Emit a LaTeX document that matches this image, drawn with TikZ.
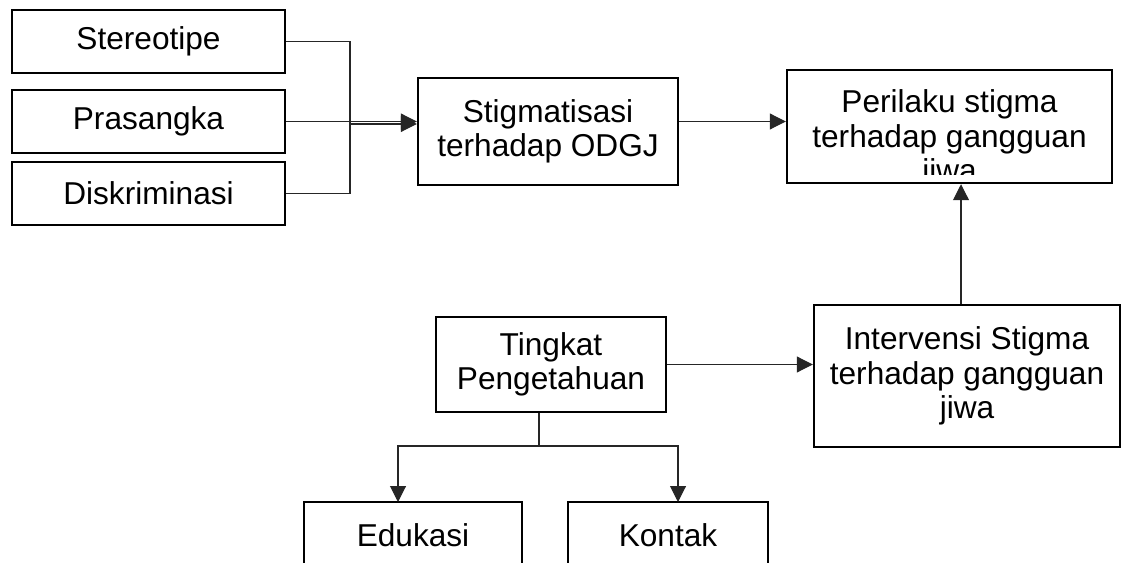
\documentclass[tikz,border=0pt]{standalone}
\usepackage{fontspec}
\setmainfont{Liberation Sans}
\usetikzlibrary{calc,arrows.meta}
\def\u{0.02cm}
\tikzset{
  box/.style={draw, line width=1.4pt, align=center, inner sep=2pt,
    font=\fontsize{18}{19.5}\selectfont},
  link/.style={line width=0.6pt, black!85},
}

\begin{document}
\begin{tikzpicture}[x=0.02cm, y=-0.02cm, >={Triangle[length=9pt,width=9pt]}]
\useasboundingbox (0,0) rectangle (1121,563);
\clip (0,0) rectangle (1121,563);

%the left column
    \node[box, minimum width=273*\u, minimum height=63*\u] (ster) at (148.5,41.5) {Stereotipe};
    \node[box, minimum width=273*\u, minimum height=63*\u] (pras) at (148.5,121.5) {Prasangka};
    \node[box, minimum width=273*\u, minimum height=63*\u] (disk) at (148.5,193.5) {Diskriminasi};

%the upper row
    \node[box, minimum width=260*\u, minimum height=107*\u] (stig) at (548,131.5) {Stigmatisasi\\terhadap ODGJ};
    \node[box, minimum width=325*\u, minimum height=113*\u,
      path picture={\clip (path picture bounding box.north west) rectangle ([yshift=0.17cm]path picture bounding box.south east);
        \node[font=\fontsize{18}{19.5}\selectfont, align=center, yshift=-0.25cm]
        at (path picture bounding box.center) {Perilaku stigma\\terhadap gangguan\\jiwa};}]
      (per) at (949.5,126.5) {};

%the lower part
    \node[box, minimum width=306*\u, minimum height=142*\u] (interv) at (967,376) {Intervensi Stigma\\terhadap gangguan\\jiwa};
    \node[box, minimum width=230*\u, minimum height=95*\u] (ting) at (551,364.5) {Tingkat\\Pengetahuan};
    \node[box, minimum width=218*\u, minimum height=66*\u] (edu) at (413,535) {Edukasi};
    \node[box, minimum width=200*\u, minimum height=66*\u] (kon) at (668,535) {Kontak};

    \coordinate (bus) at (350,124);
    \coordinate (split) at (539,446);
    \coordinate (eduin) at (398,502);
    \coordinate (konin) at (678,502);

%the connectors
    \draw[link] (ster.east) -| (bus) |- (disk.east);
    \draw[link,->] (pras.east) -- (stig.west |- pras.east);
    \draw[link,->] (bus) -- (stig.west |- bus);
    \draw[link,->] (stig.east |- pras.east) -- (per.west |- pras.east);
    \draw[link,->] ([xshift=-0.12cm]interv.north) -- ([xshift=-0.12cm]interv.north |- per.south);
    \draw[link,->] (ting.east) -- (interv.west |- ting.east);
    \draw[link] (ting.south -| split) -- (split);
    \draw[link,->] (split) -| (eduin);
    \draw[link,->] (split) -| (konin);
\end{tikzpicture}
\end{document}
